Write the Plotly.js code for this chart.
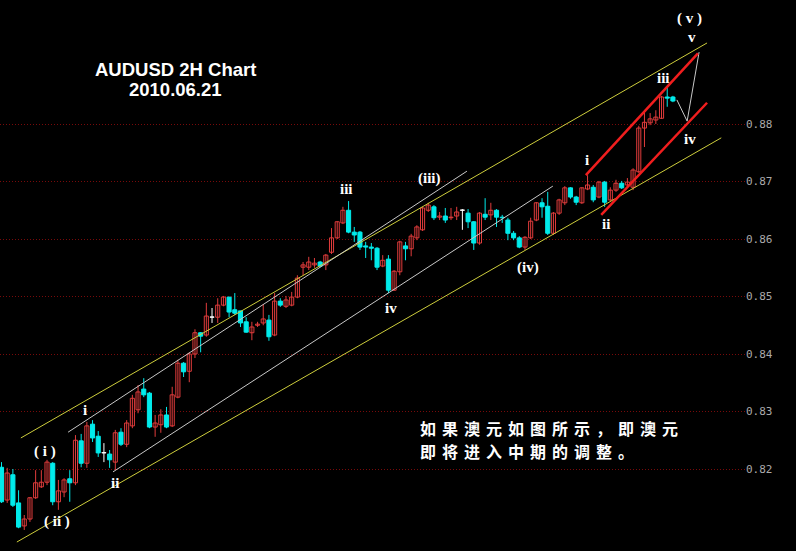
<!DOCTYPE html>
<html><head><meta charset="utf-8">
<script src="https://cdn.plot.ly/plotly-3.0.1.min.js"></script>
<style>html,body{margin:0;padding:0;background:#000;}#chart{width:796px;height:551px;}</style>
</head><body><div id="chart"></div>
<script>
// ---- data (AUDUSD 2H candles) ----
const openP = [
.8203,.8146,.8190,.8141,.8101,.8113,.8150,.8169,.8177,.8210,
.8143,.8160,.8183,.8176,.8249,.8210,.8278,.8257,.8228,.8226,
.8212,.8264,.8243,.8275,.8303,.8339,.8332,.8273,.8277,.8294,
.8275,.8325,.8384,.8370,.8400,.8437,.8433,.8464,.8464,.8485,
.8499,.8477,.8475,.8456,.8437,.8450,.8454,.8459,.8433,.8492,
.8483,.8485,.8499,.8551,.8551,.8555,.8560,.8555,.8577,.8602,
.8628,.8650,.8612,.8612,.8588,.8586,.8584,.8553,.8565,.8511,
.8543,.8588,.8583,.8602,.8616,.8650,.8656,.8638,.8640,.8637,
.8640,.8650,.8645,.8630,.8593,.8643,.8642,.8650,.8638,.8633,
.8610,.8602,.8586,.8602,.8633,.8663,.8657,.8610,.8645,.8663,
.8689,.8673,.8663,.8687,.8690,.8673,.8699,.8668,.8685,.8697,
.8694,.8690,.8717,.8793,.8802,.8807,.8810,.8847,.8847];
const closeP = [
.8143,.8193,.8137,.8099,.8113,.8150,.8176,.8177,.8212,.8143,
.8162,.8181,.8176,.8250,.8210,.8275,.8254,.8228,.8228,.8216,
.8263,.8243,.8280,.8323,.8334,.8329,.8273,.8280,.8294,.8273,
.8329,.8384,.8369,.8400,.8437,.8431,.8466,.8464,.8485,.8499,
.8473,.8471,.8454,.8438,.8447,.8452,.8461,.8430,.8492,.8485,
.8494,.8499,.8532,.8555,.8560,.8558,.8553,.8572,.8602,.8630,
.8650,.8612,.8607,.8586,.8586,.8584,.8551,.8563,.8511,.8544,
.8595,.8583,.8605,.8621,.8654,.8659,.8637,.8640,.8633,.8638,
.8647,.8650,.8630,.8593,.8645,.8638,.8650,.8638,.8637,.8610,
.8602,.8586,.8603,.8631,.8663,.8656,.8610,.8645,.8668,.8689,
.8673,.8664,.8689,.8694,.8668,.8699,.8664,.8685,.8697,.8689,
.8699,.8720,.8793,.8803,.8809,.8812,.8847,.8845,.8840];
const highP = [
.8212,.8202,.8200,.8163,.8120,.8151,.8198,.8198,.8216,.8212,
.8181,.8184,.8198,.8259,.8261,.8282,.8285,.8266,.8245,.8233,
.8268,.8271,.8285,.8329,.8346,.8358,.8334,.8294,.8304,.8308,
.8343,.8390,.8386,.8403,.8443,.8438,.8489,.8480,.8497,.8501,
.8499,.8506,.8475,.8464,.8456,.8456,.8487,.8468,.8506,.8497,
.8501,.8508,.8537,.8560,.8569,.8567,.8562,.8574,.8619,.8631,
.8656,.8666,.8621,.8614,.8595,.8593,.8586,.8572,.8572,.8546,
.8597,.8595,.8609,.8624,.8656,.8663,.8659,.8647,.8654,.8654,
.8656,.8652,.8652,.8631,.8647,.8671,.8663,.8652,.8642,.8637,
.8614,.8605,.8605,.8637,.8664,.8671,.8682,.8647,.8670,.8692,
.8690,.8675,.8690,.8711,.8694,.8701,.8701,.8690,.8703,.8701,
.8706,.8723,.8797,.8821,.8819,.8824,.8849,.8863,.8849];
const lowP = [
.8141,.8141,.8134,.8097,.8094,.8108,.8148,.8167,.8172,.8137,
.8129,.8151,.8143,.8172,.8203,.8202,.8247,.8221,.8212,.8202,
.8198,.8240,.8238,.8271,.8297,.8325,.8271,.8256,.8263,.8271,
.8273,.8323,.8360,.8351,.8393,.8403,.8430,.8454,.8454,.8483,
.8464,.8468,.8447,.8437,.8424,.8447,.8450,.8423,.8431,.8482,
.8480,.8483,.8497,.8537,.8546,.8550,.8551,.8546,.8574,.8600,
.8626,.8610,.8595,.8581,.8567,.8563,.8546,.8551,.8506,.8510,
.8537,.8563,.8570,.8598,.8614,.8647,.8633,.8633,.8628,.8633,
.8633,.8616,.8619,.8581,.8590,.8633,.8633,.8621,.8628,.8598,
.8598,.8584,.8581,.8600,.8631,.8637,.8607,.8607,.8642,.8659,
.8670,.8659,.8661,.8685,.8664,.8671,.8656,.8666,.8682,.8687,
.8692,.8685,.8715,.8760,.8798,.8800,.8809,.8830,.8838];

// trend lines: [bar index, price] end points
const upperChannelX = [3.4, 124.0],  upperChannelY = [0.8254, 0.8941];
const lowerChannelX = [2.7, 126.5],  lowerChannelY = [0.8073, 0.8776];
const whiteLine1X = [11.7, 81.8],    whiteLine1Y = [0.8264, 0.8718];
const whiteLine2X = [19.6, 96.9],    whiteLine2Y = [0.8195, 0.8692];
const projX = [118.7, 120.5, 122.6], projY = [0.8842, 0.8805, 0.8925];
const redUpperX = [102.7, 122.4],    redUpperY = [0.8711, 0.8923];
const redLowerX = [105.4, 124.0],    redLowerY = [0.8642, 0.8837];

// wave labels
const waveText = ['( i )','( ii )','i','ii','iii','(iii)','iv','(iv)','i','ii','iii','iv','v','( v )'];
const waveX = [7.65, 9.75, 14.7, 19.95, 60.55, 75.3, 68.45, 92.5, 102.9, 106.2, 116.3, 121.0, 121.35, 121.0];
const waveY = [0.8231, 0.8108, 0.8303, 0.8176, 0.8687, 0.8706, 0.8480, 0.8550, 0.8737, 0.8626, 0.8880, 0.8774, 0.8951, 0.8984];

const priceTicks = [0.82, 0.83, 0.84, 0.85, 0.86, 0.87, 0.88];
const priceTickText = ['0.82','0.83','0.84','0.85','0.86','0.87','0.88'];

const titleLines = ['AUDUSD 2H Chart', '2010.06.21'];
const noteLines = ['如果澳元如图所示，即澳元', '即将进入中期的调整。'];

// ---- build ----
const idx = openP.map((_, i) => i);
const RED = 'rgb(225,60,60)', CYAN = 'rgb(0,235,235)', YEL = 'rgb(205,205,60)', WHT = 'rgb(200,200,200)';
const groups = [
  {keep: i => closeP[i] > openP[i], fill: 'black', edge: RED, wick: RED},
  {keep: i => closeP[i] < openP[i], fill: CYAN, edge: CYAN, wick: CYAN},
  {keep: i => closeP[i] === openP[i], fill: 'white', edge: 'white', wick: 'white'}
];
const traces = [];
// wicks first (drawn under the bodies)
groups.forEach(g => {
  const wx = [], wy = [];
  idx.filter(g.keep).forEach(i => { wx.push(i, i, null); wy.push(lowP[i], highP[i], null); });
  traces.push({type:'scatter', mode:'lines', x:wx, y:wy, line:{color:g.wick, width:1}, hoverinfo:'skip', showlegend:false, connectgaps:false});
});
groups.forEach(g => {
  const ids = idx.filter(g.keep);
  traces.push({type:'bar', x: ids,
    base: ids.map(i => Math.min(openP[i], closeP[i])),
    y: ids.map(i => Math.max(Math.abs(closeP[i] - openP[i]), 0.00005)),
    width: 0.72, marker:{color:g.fill, line:{color:g.edge, width:1}}, hoverinfo:'skip', showlegend:false});
});
function line(x, y, color, width) {
  return {type:'scatter', mode:'lines', x:x, y:y, line:{color:color, width:width}, hoverinfo:'skip', showlegend:false};
}
traces.push(line(upperChannelX, upperChannelY, YEL, 1));
traces.push(line(lowerChannelX, lowerChannelY, YEL, 1));
traces.push(line(whiteLine1X, whiteLine1Y, WHT, 1));
traces.push(line(whiteLine2X, whiteLine2Y, WHT, 1));
traces.push(line(projX, projY, WHT, 1));
traces.push(line(redUpperX, redUpperY, 'rgb(240,30,30)', 2.5));
traces.push(line(redLowerX, redLowerY, 'rgb(240,30,30)', 2.5));

const annotations = waveText.map((t, k) => ({
  x: waveX[k], y: waveY[k], xref:'x', yref:'y', xanchor:'center', yanchor:'middle', text: t, showarrow:false,
  font:{family:'Liberation Serif, Times New Roman, serif', size:15, color:'white', weight:'bold'}
}));
const tFont = {family:'Liberation Sans, Arial, sans-serif', size:18.5, color:'white', weight:'bold'};
annotations.push({xref:'paper', yref:'paper', x:175/745, y:1-69/551, xanchor:'center', yanchor:'middle', text:titleLines[0], showarrow:false, font:tFont});
annotations.push({xref:'paper', yref:'paper', x:175/745, y:1-90/551, xanchor:'center', yanchor:'middle', text:titleLines[1], showarrow:false, font:tFont});
const nFont = {family:'Noto Sans CJK SC, sans-serif', size:16, color:'white', weight:'bold'};
const spaced = s => Array.from(s).join('\u2005\u200A\u200A');
annotations.push({xref:'paper', yref:'paper', x:418/745, y:1-428/551, xanchor:'left', yanchor:'middle', text:spaced(noteLines[0]), showarrow:false, font:nFont});
annotations.push({xref:'paper', yref:'paper', x:418/745, y:1-451/551, xanchor:'left', yanchor:'middle', text:spaced(noteLines[1]), showarrow:false, font:nFont});

const layout = {
  width:796, height:551, margin:{l:0, r:51, t:0, b:0},
  paper_bgcolor:'black', plot_bgcolor:'black', showlegend:false, barmode:'overlay',
  xaxis:{range:[-0.264, 130.67], visible:false, showgrid:false, zeroline:false, fixedrange:true},
  yaxis:{range:[0.80574, 0.90157], side:'right', tickvals:priceTicks, ticktext:priceTickText,
         showgrid:true, gridcolor:'rgb(120,10,10)', griddash:'1px,2px', gridwidth:1, zeroline:false, showline:false, ticks:'',
         tickfont:{family:'DejaVu Sans Mono, monospace', size:11, color:'rgb(170,170,170)'}, fixedrange:true},
  annotations: annotations
};
Plotly.newPlot('chart', traces, layout, {displayModeBar:false, staticPlot:true});
</script>
</body></html>
